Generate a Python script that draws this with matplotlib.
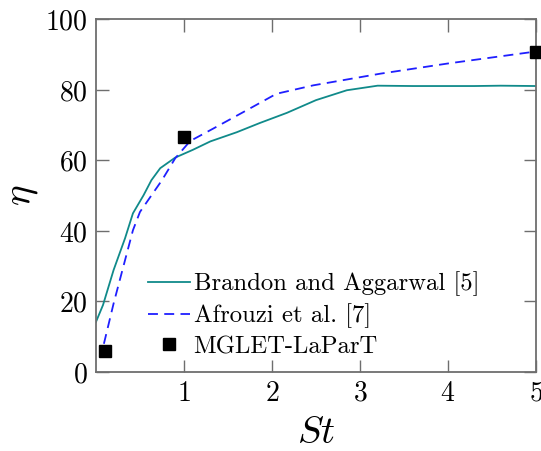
import numpy as np
import matplotlib
matplotlib.use("Agg")
import matplotlib.pyplot as plt

plt.rcParams['font.family'] = 'serif'
plt.rcParams['font.serif'] = ['cmr10', 'DejaVu Serif']
plt.rcParams['mathtext.fontset'] = 'cm'
plt.rcParams['axes.formatter.use_mathtext'] = True

# %%
# Collection efficiency vs Stokes number
st_brandon = [0.0, 0.08, 0.2, 0.33, 0.42, 0.54, 0.63, 0.73, 0.9, 1.1, 1.3, 1.6, 1.86, 2.17, 2.5, 2.85, 3.2, 3.6, 4.0, 4.3, 4.6, 5.0]
eta_brandon = [14.2, 19.0, 28.9, 37.9, 45.0, 50.1, 54.4, 57.8, 60.8, 63.0, 65.4, 68.0, 70.6, 73.5, 77.1, 79.9, 81.2, 81.1, 81.1, 81.1, 81.2, 81.1]

st_afrouzi = [0.09, 0.2, 0.31, 0.42, 0.5, 0.75, 0.9, 1.07, 1.33, 1.71, 2.05, 2.47, 3.0, 3.23, 4.0, 5.0]
eta_afrouzi = [8.0, 19.4, 29.8, 40.2, 45.4, 54.4, 60.6, 65.5, 69.0, 74.2, 78.9, 81.3, 83.6, 84.6, 87.5, 90.9]

st_mglet = [0.1, 1.0, 5.0]
eta_mglet = [6.0, 66.6, 90.7]

# %%
fig = plt.figure(figsize=(5.41, 4.51), dpi=100)
ax = fig.add_axes([0.1774, 0.1752, 0.8134, 0.7818])

ax.plot(st_brandon, eta_brandon, c='#108a8a', lw=1.3, label='Brandon and Aggarwal [5]')
ax.plot(st_afrouzi, eta_afrouzi, c='#1f1fff', ls=(0, (5.5, 3.5)), lw=1.3, label='Afrouzi et al. [7]')
ax.plot(st_mglet, eta_mglet, ls='none', marker='s', ms=8.5, c='k', clip_on=False, zorder=5, label='MGLET-LaParT')

ax.set_xlim([0, 5])
ax.set_ylim([0, 100])
ax.set_xticks([1, 2, 3, 4, 5])
ax.set_yticks([0, 20, 40, 60, 80, 100])
ax.tick_params(direction='in', top=True, right=True, length=9, width=1.0, color='#6e6e6e', labelsize=20, pad=6)
for s in ax.spines.values():
    s.set_color('#6e6e6e')
    s.set_linewidth(1.3)

ax.set_xlabel(r'$St$', fontsize=28, labelpad=6)
ax.set_ylabel(r'$\eta$', fontsize=28, labelpad=4)

ax.legend(frameon=False, loc='upper left', bbox_to_anchor=(0.118, 0.285), fontsize=17.8,
          borderaxespad=0, borderpad=0, handlelength=1.7, handletextpad=0.15,
          labelspacing=0.3, numpoints=1)

plt.savefig("out.png", dpi=100)
